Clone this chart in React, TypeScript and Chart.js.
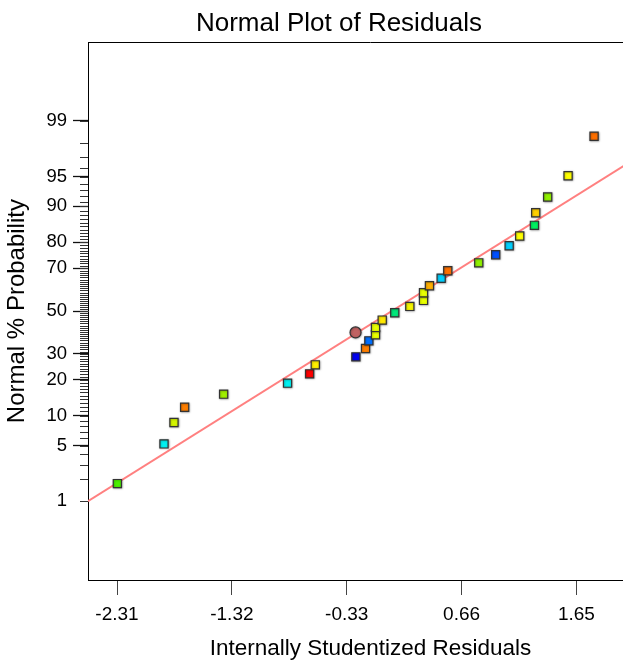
import React, { useEffect, useRef } from "react";
import { Chart, registerables } from "chart.js";

Chart.register(...registerables);

// ---- data ----
const residuals = [
  -2.307, -1.905, -1.819, -1.727, -1.391, -0.84, -0.65, -0.601, -0.251, -0.168,
  -0.139, -0.082, -0.082, -0.024, 0.084, 0.214, 0.332, 0.332, 0.383, 0.484,
  0.541, 0.808, 0.954, 1.07, 1.161, 1.288, 1.299, 1.402, 1.578, 1.802,
];
const probabilities = [
  1.74, 5.21, 8.64, 11.98, 15.47, 18.89, 22.13, 25.54, 28.78, 32.39,
  35.8, 38.58, 42.09, 45.61, 49.17, 52.3, 55.21, 58.87, 62.17, 65.61,
  68.92, 72.25, 75.47, 78.81, 82.08, 85.3, 88.57, 91.87, 95.12, 98.38,
];
const pointColors = [
  "#4CF000", "#00F0F0", "#D4F500", "#FF7F00", "#A0F000", "#00F0F0", "#FF0000", "#FFF000", "#0000F0", "#FF7F00",
  "#0070FF", "#E8FF00", "#E8FF00", "#FFE800", "#00E87A", "#F5F500", "#E8FF00", "#E8FF00", "#FFB000", "#00D0FF",
  "#FF7000", "#90F000", "#0050FF", "#00D0FF", "#FFFF00", "#00F060", "#FFD000", "#90F000", "#FFFF00", "#FF7000",
];
const highlightResidual = [-0.254];
const highlightProbability = [39.71];

const lineResiduals = [-2.56, 2.31];
const lineProbabilities = [1.0, 97.73];

const xTickValues = [-2.31, -1.32, -0.33, 0.66, 1.65];
const yMajorTicks = [1, 5, 10, 20, 30, 50, 70, 80, 90, 95, 99];
const yMinorTicks = Array.from({ length: 99 }, (_, i) => i + 1);

const xMin = -2.56;
const xMax = 2.31;
const pMin = 0.05;
const pMax = 99.95;

// inverse normal CDF (Acklam)
function probit(p: number): number {
  const a = [-3.969683028665376e1, 2.209460984245205e2, -2.759285104469687e2, 1.38357751867269e2, -3.066479806614716e1, 2.506628277459239];
  const b = [-5.447609879822406e1, 1.615858368580409e2, -1.556989798598866e2, 6.680131188771972e1, -1.328068155288572e1];
  const c = [-7.784894002430293e-3, -3.223964580411365e-1, -2.400758277161838, -2.549732539343734, 4.374664141464968, 2.938163982698783];
  const d = [7.784695709041462e-3, 3.224671290700398e-1, 2.445134137142996, 3.754408661907416];
  const pl = 0.02425;
  const ph = 1 - pl;
  let q: number, r: number;
  if (p < pl) {
    q = Math.sqrt(-2 * Math.log(p));
    return (((((c[0] * q + c[1]) * q + c[2]) * q + c[3]) * q + c[4]) * q + c[5]) / ((((d[0] * q + d[1]) * q + d[2]) * q + d[3]) * q + 1);
  }
  if (p <= ph) {
    q = p - 0.5;
    r = q * q;
    return ((((((a[0] * r + a[1]) * r + a[2]) * r + a[3]) * r + a[4]) * r + a[5]) * q) / (((((b[0] * r + b[1]) * r + b[2]) * r + b[3]) * r + b[4]) * r + 1);
  }
  q = Math.sqrt(-2 * Math.log(1 - p));
  return -(((((c[0] * q + c[1]) * q + c[2]) * q + c[3]) * q + c[4]) * q + c[5]) / ((((d[0] * q + d[1]) * q + d[2]) * q + d[3]) * q + 1);
}

const FONT = "'Liberation Sans', Arial, sans-serif";

const minorTicksPlugin = {
  id: "minorTicks",
  afterDraw(chart: any) {
    const { ctx, chartArea, scales } = chart;
    const y = scales.y;
    ctx.save();
    ctx.strokeStyle = "#333";
    ctx.lineWidth = 1;
    ctx.beginPath();
    for (const p of yMinorTicks) {
      const py = Math.round(y.getPixelForValue(probit(p / 100))) + 0.5;
      ctx.moveTo(chartArea.left - 8, py);
      ctx.lineTo(chartArea.left, py);
    }
    ctx.stroke();
    ctx.strokeStyle = "#000";
    ctx.beginPath();
    ctx.moveTo(chartArea.left, Math.round(chartArea.top) + 0.5);
    ctx.lineTo(chartArea.right, Math.round(chartArea.top) + 0.5);
    ctx.stroke();
    ctx.restore();
  },
};

const shadowPlugin = {
  id: "pointShadow",
  beforeDatasetDraw(chart: any, args: any) {
    if (args.index === 2) return;
    const ctx = chart.ctx;
    ctx.save();
    ctx.shadowColor = "rgba(0,0,0,0.35)";
    ctx.shadowBlur = 2;
    ctx.shadowOffsetX = 0.5;
    ctx.shadowOffsetY = 0.5;
  },
  afterDatasetDraw(chart: any, args: any) {
    if (args.index === 2) return;
    chart.ctx.restore();
  },
};

export default function App() {
  const ref = useRef<HTMLCanvasElement>(null);

  useEffect(() => {
    document.body.style.margin = "0";
    document.body.style.overflow = "hidden";
    const canvas = ref.current!;
    const chart = new Chart(canvas, {
      type: "scatter",
      data: {
        datasets: [
          {
            label: "Residuals",
            data: residuals.map((x, i) => ({ x, y: probit(probabilities[i] / 100) })),
            pointStyle: "rect",
            pointRadius: 5.8,
            pointBackgroundColor: pointColors,
            pointBorderColor: "#333",
            pointBorderWidth: 1.2,
            order: 0,
          },
          {
            label: "Highlighted",
            data: highlightResidual.map((x, i) => ({ x, y: probit(highlightProbability[i] / 100) })),
            pointStyle: "circle",
            pointRadius: 5.5,
            pointBackgroundColor: "#C06262",
            pointBorderColor: "#333",
            pointBorderWidth: 1.2,
            order: 0,
          },
          {
            label: "Normal line",
            data: lineResiduals.map((x, i) => ({ x, y: probit(lineProbabilities[i] / 100) })),
            showLine: true,
            borderColor: "#FF8080",
            borderWidth: 2,
            pointRadius: 0,
            order: 1,
          },
        ],
      },
      options: {
        responsive: false,
        animation: false,
        devicePixelRatio: 1,
        layout: { padding: { left: 25, right: 25, top: 0, bottom: 0 } },
        plugins: {
          legend: { display: false },
          tooltip: { enabled: false },
          title: {
            display: true,
            text: "Normal Plot of Residuals",
            color: "#000",
            font: { family: FONT, size: 26, weight: "normal", lineHeight: 1.2 },
            padding: { top: 8, bottom: 3 },
          },
        },
        scales: {
          x: {
            type: "linear",
            min: xMin,
            max: xMax,
            afterBuildTicks: (scale: any) => {
              scale.ticks = xTickValues.map((v) => ({ value: v }));
            },
            afterFit: (scale: any) => {
              scale.height = 80;
            },
            ticks: {
              autoSkip: false,
              maxRotation: 0,
              color: "#000",
              padding: 8,
              font: { family: FONT, size: 19 },
              callback: (v: any) => Number(v).toFixed(2),
            },
            grid: {
              display: true,
              drawOnChartArea: false,
              drawTicks: true,
              tickLength: 15,
              tickColor: "#444",
              tickWidth: 1,
            },
            border: { display: true, color: "#000", width: 1 },
            title: {
              display: true,
              text: "Internally Studentized Residuals",
              color: "#000",
              font: { family: FONT, size: 22.5, lineHeight: 1 },
              padding: { top: 0, bottom: 0 },
            },
          },
          y: {
            type: "linear",
            min: probit(pMin / 100),
            max: probit(pMax / 100),
            afterBuildTicks: (scale: any) => {
              scale.ticks = yMajorTicks.map((p) => ({ value: probit(p / 100) }));
            },
            afterFit: (scale: any) => {
              scale.width = 63;
            },
            ticks: {
              autoSkip: false,
              color: "#000",
              padding: 6,
              font: { family: FONT, size: 18.5 },
              callback: (_v: any, i: number) => String(yMajorTicks[i]),
            },
            grid: {
              display: true,
              drawOnChartArea: false,
              drawTicks: true,
              tickLength: 15,
              tickWidth: 1.3,
              tickColor: (ctx: any) => (ctx.index === 0 ? "rgba(0,0,0,0)" : "#111"),
            },
            border: { display: true, color: "#000", width: 1 },
            title: {
              display: true,
              text: "Normal % Probability",
              color: "#000",
              font: { family: FONT, size: 24, lineHeight: 1.2 },
              padding: { top: -22, bottom: 0 },
            },
          },
        },
      },
      plugins: [minorTicksPlugin, shadowPlugin],
    });
    return () => chart.destroy();
  }, []);

  return (
    <div style={{ position: "relative", width: 623, height: 660, overflow: "hidden", background: "#fff" }}>
      <canvas ref={ref} width={678} height={660} style={{ display: "block", width: 678, height: 660 }} />
    </div>
  );
}
